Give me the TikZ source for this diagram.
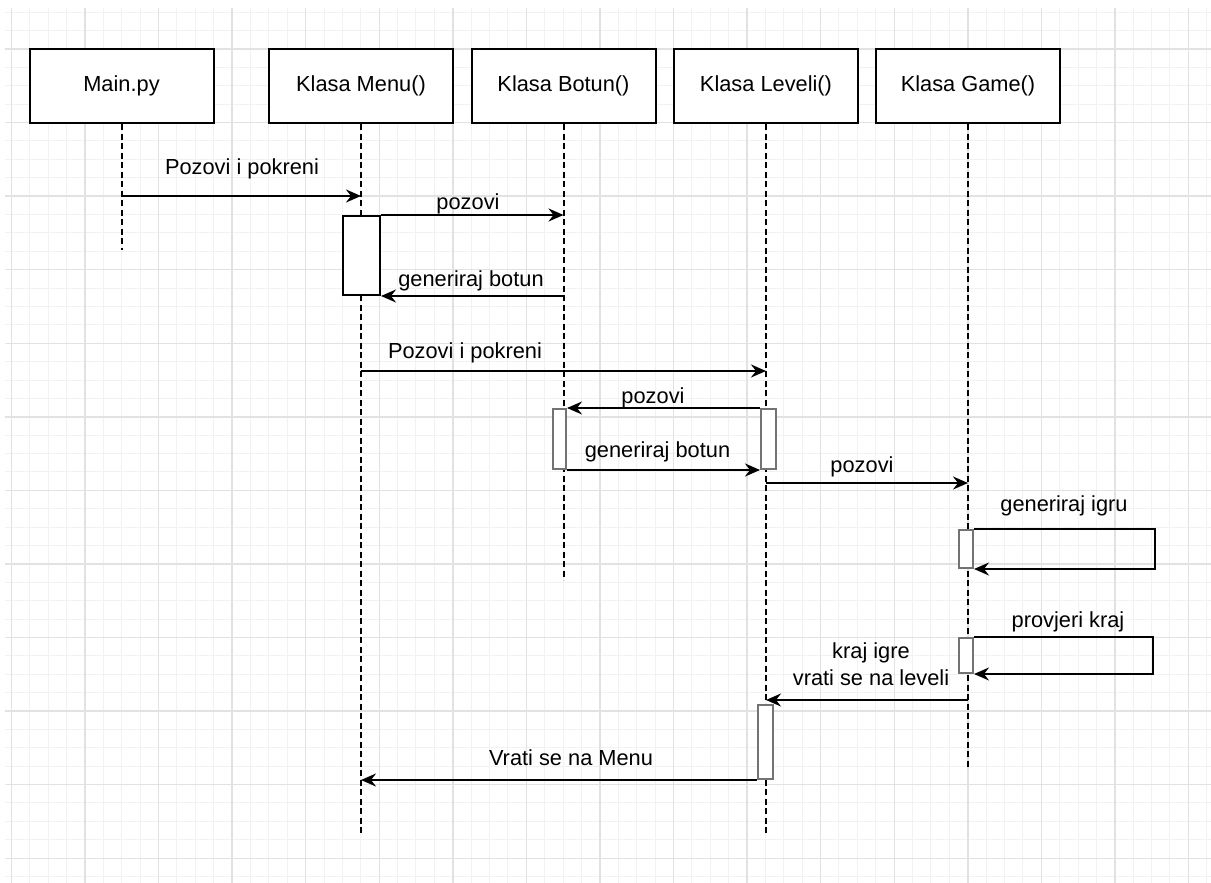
\documentclass[tikz,border=0pt]{standalone}
\usepackage{fontspec}
\setmainfont{Liberation Sans}
\usetikzlibrary{arrows.meta,positioning,calc}
\definecolor{gminor}{HTML}{F2F2F2}
\definecolor{gmajor}{HTML}{E2E2E2}
\tikzset{>={Stealth[length=15pt, width=13pt, inset=5pt]},
  head/.style={draw, line width=2pt, fill=white, minimum width=184pt, minimum height=74pt, inner sep=0pt, font=\fontsize{21.8}{27}\selectfont},
  act/.style={draw=black!55, line width=2pt, fill=white, inner sep=0pt},
  life/.style={line width=2pt, dash pattern=on 6pt off 3.5pt},
  msg/.style={->, line width=2pt},
  lbl/.style={anchor=base, inner sep=0pt, font=\fontsize{21.8}{27}\selectfont}}

\begin{document}
\begin{tikzpicture}[x=1pt, y=-1pt]
  \useasboundingbox[fill=white] (0,0) rectangle (1211,883);
  % grid
  \foreach \k [evaluate=\k as \g using 11.4+18.39*\k] in {0,...,65} \draw[gminor, line width=1pt] (\g,8) -- (\g,883);
  \foreach \k [evaluate=\k as \g using 12.2+18.39*\k] in {0,...,47} \draw[gminor, line width=1pt] (5,\g) -- (1211,\g);
  \foreach \k [evaluate=\k as \g using 11.4+73.57*\k] in {0,...,16} \draw[gmajor, line width=1.4pt] (\g,8) -- (\g,883);
  \foreach \k [evaluate=\k as \g using 49+73.57*\k] in {0,...,11} \draw[gmajor, line width=1.4pt] (5,\g) -- (1211,\g);
  % heads and lifelines
  \foreach \n/\x/\t/\e in {main/121.5/{Main.py}/250, menu/361/{Klasa Menu()}/835, botun/563.5/{Klasa Botun()}/580, leveli/766/{Klasa Leveli()}/835, game/968/{Klasa Game()}/767} {
    \node[head] (\n) at (\x,86) {\t};
    \coordinate (\n end) at (\n.south |- 0,\e);
    \draw[life] (\n.south) -- (\n end);
  }
  % activations
  \node[act, draw=black, minimum width=37pt, minimum height=79pt] (a1) at (361.5,255.5) {};
  \node[act, minimum width=13pt, minimum height=60pt] (a2) at (559.5,439) {};
  \node[act, minimum width=15pt, minimum height=60pt] (a3) at (768.5,439) {};
  \node[act, minimum width=14pt, minimum height=38pt] (a4) at (966,549) {};
  \node[act, minimum width=14pt, minimum height=35pt] (a5) at (966,655.5) {};
  \node[act, minimum width=15pt, minimum height=74pt] (a6) at (765.5,742) {};
  % messages
  \draw[msg] (main.south |- 0,196) -- (menu.south |- 0,196);
  \draw[msg] (a1.north east) -- (botun.south |- a1.north east);
  \draw[msg] (botun.south |- a1.south east) -- (a1.south east);
  \draw[msg] (menu.south |- 0,371) -- (leveli.south |- 0,371);
  \draw[msg] (a3.north west) -- (a2.north east);
  \draw[msg] (a2.south east) -- (a3.south west);
  \draw[msg] (leveli.south |- 0,483) -- (game.south |- 0,483);
  \draw[msg] (a4.north east) -- ++(181,0) |- (a4.south east);
  \draw[msg] (a5.north east) -- ++(179,0) |- (a5.south east);
  \draw[msg] (game.south |- 0,700) -- (leveli.south |- 0,700);
  \draw[msg] (a6.south west) -- (menu.south |- a6.south west);
  % labels
  \node[lbl] (l1) at (242,174) {Pozovi i pokreni};
  \node[lbl] (l2) at (468,209) {pozovi};
  \node[lbl] (l3) at (471,286) {generiraj botun};
  \node[lbl] (l4) at (465,358) {Pozovi i pokreni};
  \node[lbl] (l5) at (653,403) {pozovi};
  \node[lbl] (l6) at (657.5,457) {generiraj botun};
  \node[lbl] (l7) at (862,472) {pozovi};
  \node[lbl] (l8) at (1064,511) {generiraj igru};
  \node[lbl] (l9) at (1068,627) {provjeri kraj};
  \node[lbl, anchor=center, align=center] (l10) at (871,664) {kraj igre\\vrati se na leveli};
  \node[lbl] (l11) at (571,765.5) {Vrati se na Menu};
\end{tikzpicture}
\end{document}
